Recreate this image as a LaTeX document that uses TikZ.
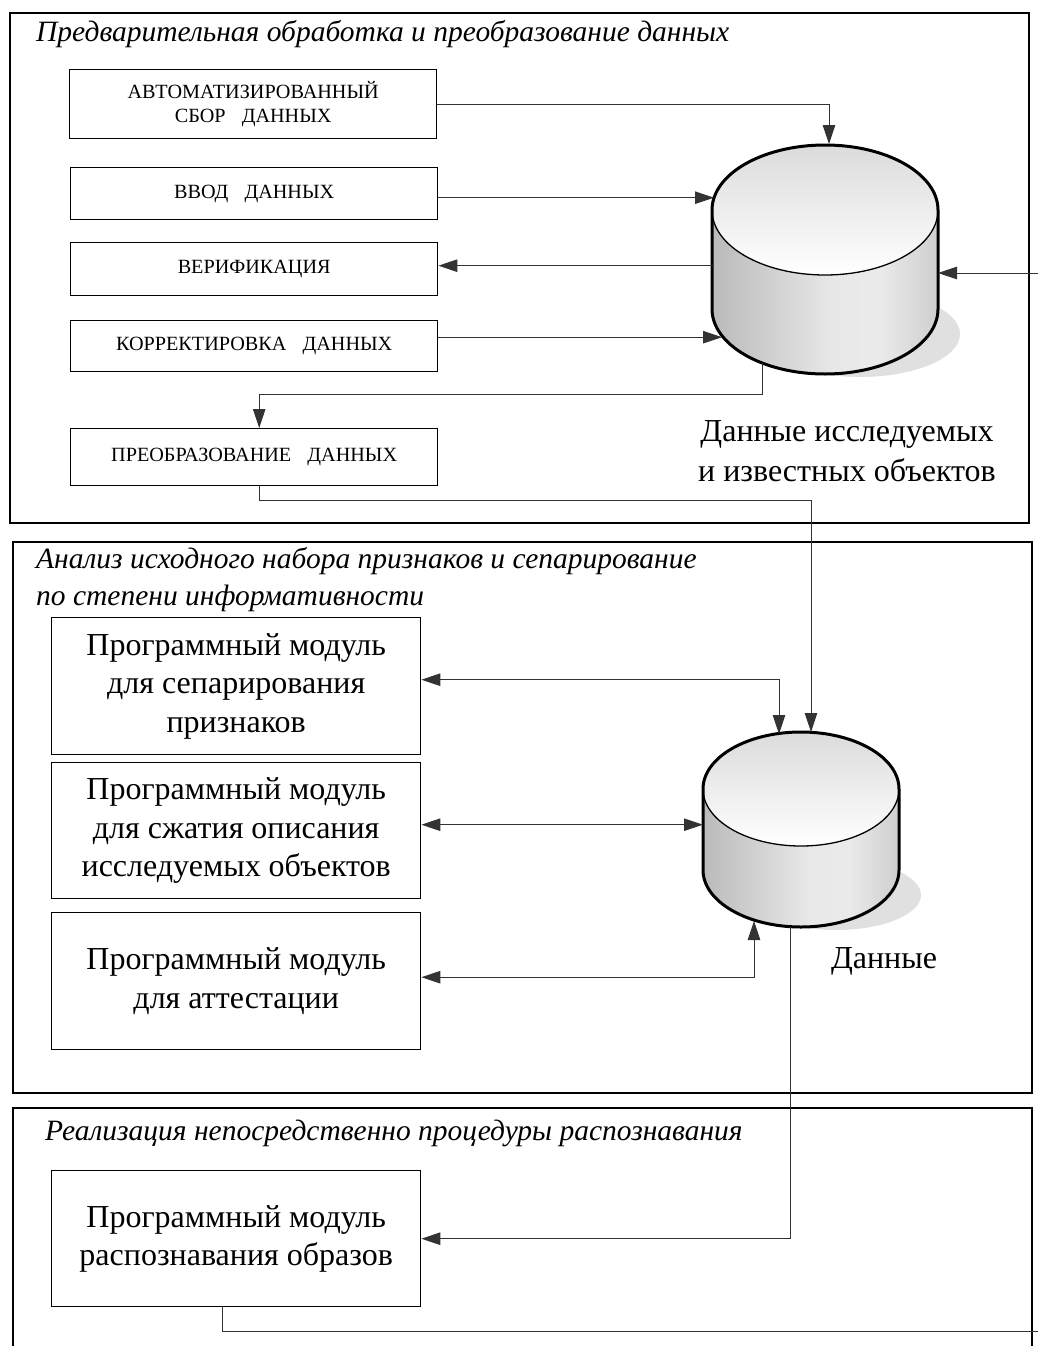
\documentclass[tikz,border=0pt]{standalone}
\usepackage{fontspec}
\setmainfont{Liberation Serif}
\usetikzlibrary{arrows.meta}

\pgfdeclarehorizontalshading{dbside}{100bp}{color(0bp)=(black!27); color(25bp)=(black!27);
  color(52bp)=(black!9); color(62bp)=(black!8); color(75bp)=(black!19); color(100bp)=(black!19)}

% cylinder: centre x, top y, bottom y, x radius, y radius
\newcommand{\dbcyl}[5]{%
  \fill[black!12] (#1+35,#3+25) ellipse [x radius=#4-13, y radius=#5-22];
  \path[shading=dbside]
    (#1-#4,#2) -- (#1-#4,#3) arc [start angle=180, end angle=0, x radius=#4, y radius=#5]
    -- (#1+#4,#2) -- cycle;
  \path[top color=black!14, bottom color=white] (#1,#2) ellipse [x radius=#4, y radius=#5];
  \draw[line width=1.3pt] (#1-#4,#2) arc [start angle=180, end angle=0, x radius=#4, y radius=#5];
  \draw[line width=3pt, line join=round]
    (#1-#4,#3) -- (#1-#4,#2) arc [start angle=180, end angle=360, x radius=#4, y radius=#5]
    -- (#1+#4,#3) arc [start angle=0, end angle=180, x radius=#4, y radius=#5] -- cycle;
}
\newcommand{\gap}{\hspace{0.8em}}

\tikzset{
  frame/.style={draw, line width=2pt},
  ttl/.style={font=\fontsize{29.5}{37.5}\selectfont\itshape, inner sep=0pt, align=left},
  capbox/.style={draw, line width=1.4pt, minimum width=367pt, anchor=north west,
    align=center, font=\fontsize{20.2}{24}\selectfont},
  modbox/.style={draw, line width=1.4pt, minimum width=369pt, minimum height=136pt,
    anchor=north west, align=center, font=\fontsize{32}{38.5}\selectfont},
  lbl/.style={align=center, inner sep=0pt, font=\fontsize{32}{40}\selectfont},
  link/.style={draw=black!80, line width=0.9pt},
  arr/.style={-{Triangle[length=19pt,width=12.5pt]}},
  arrs/.style={{Triangle[length=19pt,width=12.5pt]}-{Triangle[length=19pt,width=12.5pt]}},
}

\begin{document}
\begin{tikzpicture}[x=1pt, y=-1pt]
\useasboundingbox (0,0) rectangle (1038,1346);

% frames
\draw[frame] (10,13) rectangle (1029,523);
\draw[frame] (13,542) rectangle (1032,1093);
\draw[frame] (13,1346) -- (13,1108) -- (1032,1108) -- (1032,1346);

\node[ttl, anchor=base west] (ttlprep) at (36,42) {Предварительная обработка и преобразование данных};
\node[ttl, anchor=north west] (ttlanal) at (36,547) {Анализ исходного набора признаков и сепарирование\\по степени информативности};
\node[ttl, anchor=base west] (ttlreal) at (45,1140) {Реализация непосредственно процедуры распознавания};

% boxes of the first stage
\node[capbox, minimum height=69pt] (autosbor) at (69,69) {АВТОМАТИЗИРОВАННЫЙ\\СБОР\gap ДАННЫХ};
\node[capbox, minimum height=52pt] (vvod) at (70,167) {ВВОД\gap ДАННЫХ};
\node[capbox, minimum height=53pt] (verif) at (70,242) {ВЕРИФИКАЦИЯ};
\node[capbox, minimum height=51pt] (korr) at (70,320) {КОРРЕКТИРОВКА\gap ДАННЫХ};
\node[capbox, minimum height=57pt] (preobr) at (70,428) {ПРЕОБРАЗОВАНИЕ\gap ДАННЫХ};

% program modules
\node[modbox, minimum height=137pt] (separ) at (51,617) {Программный модуль\\для сепарирования\\признаков};
\node[modbox] (szhat) at (51,762) {Программный модуль\\для сжатия описания\\исследуемых объектов};
\node[modbox, minimum height=137pt] (attest) at (51,912) {Программный модуль\\для аттестации};
\node[modbox] (raspozn) at (51,1170) {Программный модуль\\распознавания образов};

% data stores
\dbcyl{825}{210}{309}{113}{65}
\dbcyl{801}{789}{870}{98}{57}
\node[lbl] (dbtext1) at (847,451) {Данные исследуемых\\и известных объектов};
\node[lbl, anchor=base] (dbtext2) at (884,968) {Данные};

\coordinate (db1n) at (829,144);
\coordinate (db1w) at (714,197);
\coordinate (db1sw) at (722,336);
\coordinate (db1s) at (762,363);
\coordinate (db1e) at (938,273);
\coordinate (db2n) at (811,732);
\coordinate (db2nw) at (779,734);
\coordinate (db2w) at (703,824);
\coordinate (db2sw) at (754,921);
\coordinate (db2s) at (790,927);
\coordinate (fbin) at (1038,273);
\coordinate (fbout) at (1038,1331);

% connectors
\draw[link, arr] (autosbor.east) -| (db1n);
\draw[link, arr] ([yshift=-4pt]vvod.east) -- ([yshift=-4pt]vvod.east -| db1w);
\draw[link, arr] ([yshift=3.5pt]verif.east -| db1w) -- ([yshift=3.5pt]verif.east);
\draw[link, arr] ([yshift=9pt]korr.east) -- ([yshift=9pt]korr.east -| db1sw);
\draw[link, arr] (db1s) -- ++(0,31) -| ([xshift=5pt]preobr.north);
\draw[link, arr] (fbin) -- (db1e);
\draw[link, arr] ([xshift=5pt]preobr.south) -- ++(0,14) -| (db2n);
\draw[link, arrs] ([yshift=6.5pt]separ.east) -| (db2nw);
\draw[link, arrs] ([yshift=6pt]szhat.east) -- ([yshift=6pt]szhat.east -| db2w);
\draw[link, arrs] ([yshift=4pt]attest.east) -| (db2sw);
\draw[link, arr] (db2s) |- (raspozn.east);
\draw[link] ([xshift=-14pt]raspozn.south) |- (fbout);
\end{tikzpicture}
\end{document}
